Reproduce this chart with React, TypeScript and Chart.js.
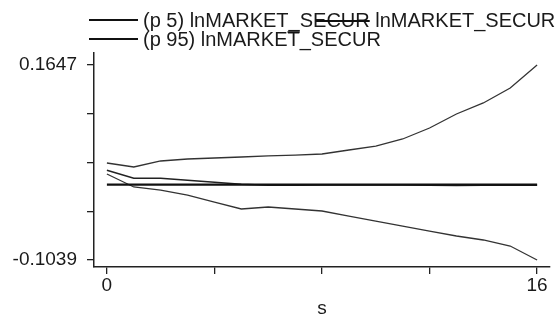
import React, { useEffect, useRef } from 'react';
import { Chart, registerables } from 'chart.js';

Chart.register(...registerables);

// ---- data ----
const steps = [0, 1, 2, 3, 4, 5, 6, 7, 8, 9, 10, 11, 12, 13, 14, 15, 16];
const p95Values = [0.0297, 0.0242, 0.0325, 0.0352, 0.0366, 0.038, 0.0394, 0.0407, 0.0421, 0.0476, 0.0531, 0.0628, 0.0779, 0.0972, 0.1124, 0.133, 0.1647];
const p5Values = [0.0146, -0.0033, -0.0075, -0.0144, -0.024, -0.0336, -0.0309, -0.0336, -0.0364, -0.0433, -0.0502, -0.0571, -0.064, -0.0708, -0.0763, -0.0846, -0.1039];
const irfValues = [0.0197, 0.0087, 0.0087, 0.0059, 0.0032, 0.0005, -0.001, -0.0008, -0.0005, -0.0004, -0.0004, -0.0005, -0.0008, -0.0012, -0.001, -0.0008, -0.0008];
const zeroValues = [0, 0, 0, 0, 0, 0, 0, 0, 0, 0, 0, 0, 0, 0, 0, 0, 0];

const yTickValues = [-0.1039, -0.03675, 0.0304, 0.09755, 0.1647];
const yTickLabels = ['-0.1039', '', '', '', '0.1647'];
const xTickValues = [0, 4, 8, 12, 16];
const xTickLabels = ['0', '', '', '', '16'];
const legendRows = ['(p 5) lnMARKET_SECUR lnMARKET_SECUR', '(p 95) lnMARKET_SECUR'];
const xTitle = 's';

const FONT = "'Liberation Sans', Arial, sans-serif";

const legendPlugin = {
  id: 'stataLegend',
  afterDraw(chart: any) {
    const ctx = chart.ctx;
    ctx.save();
    ctx.font = `20px ${FONT}`;
    ctx.fillStyle = '#1a1a1a';
    ctx.strokeStyle = '#111';
    ctx.textBaseline = 'alphabetic';
    const textX = 143;
    const rowsY = [20, 39];
    legendRows.forEach((t, i) => {
      ctx.lineWidth = 1.8;
      ctx.beginPath();
      ctx.moveTo(89, rowsY[i]);
      ctx.lineTo(138, rowsY[i]);
      ctx.stroke();
      ctx.fillText(t, textX, rowsY[i] + 7);
    });
    // overlapping key artefacts
    const s1 = ctx.measureText('(p 5) lnMARKET_S').width;
    const s2 = ctx.measureText('(p 5) lnMARKET_SECUR').width;
    ctx.lineWidth = 2;
    ctx.beginPath();
    ctx.moveTo(textX + s1 + 3, rowsY[0] + 1);
    ctx.lineTo(textX + s2, rowsY[0] + 1);
    ctx.stroke();
    const t1 = ctx.measureText('(p 95) lnMARKE').width;
    const t2 = ctx.measureText('(p 95) lnMARKET').width;
    ctx.lineWidth = 1.5;
    ctx.beginPath();
    ctx.moveTo(textX + t1, rowsY[1] - 7);
    ctx.lineTo(textX + t2, rowsY[1] - 7);
    ctx.stroke();
    ctx.restore();
  },
};

export default function App() {
  const ref = useRef<HTMLCanvasElement | null>(null);

  useEffect(() => {
    if (!ref.current) return;
    const toPts = (arr: number[]) => steps.map((s, i) => ({ x: s, y: arr[i] }));
    const chart = new Chart(ref.current, {
      type: 'line',
      data: {
        datasets: [
          { label: 'zero', data: toPts(zeroValues), borderColor: '#111', borderWidth: 2.2, pointRadius: 0, tension: 0, fill: false },
          { label: 'lnMARKET_SECUR', data: toPts(irfValues), borderColor: '#222', borderWidth: 1.6, pointRadius: 0, tension: 0, fill: false },
          { label: '(p 5) lnMARKET_SECUR', data: toPts(p5Values), borderColor: '#333', borderWidth: 1.3, pointRadius: 0, tension: 0, fill: false },
          { label: '(p 95) lnMARKET_SECUR', data: toPts(p95Values), borderColor: '#333', borderWidth: 1.3, pointRadius: 0, tension: 0, fill: false },
        ],
      },
      options: {
        responsive: false,
        animation: false,
        layout: { padding: { top: 53, right: 10, left: 0, bottom: 0 } },
        plugins: { legend: { display: false }, tooltip: { enabled: false } },
        scales: {
          x: {
            type: 'linear',
            min: -0.48,
            max: 16.48,
            afterBuildTicks: (scale: any) => {
              scale.ticks = xTickValues.map((v) => ({ value: v }));
            },
            afterFit: (scale: any) => {
              scale.height = 48;
            },
            ticks: {
              autoSkip: false,
              maxRotation: 0,
              padding: 0,
              color: '#1a1a1a',
              font: { family: FONT, size: 19 },
              callback: (_v: any, i: number) => xTickLabels[i],
            },
            grid: { display: true, drawOnChartArea: false, drawTicks: true, tickLength: 7, color: '#222', lineWidth: 1.3 },
            border: { display: true, color: '#222', width: 1.5 },
            title: { display: true, text: xTitle, color: '#1a1a1a', font: { family: FONT, size: 19, lineHeight: 0.7 }, padding: { top: 0, bottom: 0 } },
          },
          y: {
            type: 'linear',
            min: -0.1135,
            max: 0.1812,
            afterBuildTicks: (scale: any) => {
              scale.ticks = yTickValues.map((v) => ({ value: v }));
            },
            afterFit: (scale: any) => {
              scale.width = 94;
            },
            ticks: {
              autoSkip: false,
              padding: 10,
              color: '#1a1a1a',
              font: { family: FONT, size: 19 },
              callback: (_v: any, i: number) => yTickLabels[i],
            },
            grid: { display: true, drawOnChartArea: false, drawTicks: true, tickLength: 7, color: '#222', lineWidth: 1.3 },
            border: { display: true, color: '#222', width: 1.5 },
          },
        },
      },
      plugins: [legendPlugin],
    });
    return () => chart.destroy();
  }, []);

  return (
    <div style={{ position: 'absolute', left: 0, top: 0, width: 560, height: 315, background: '#fff' }}>
      <canvas ref={ref} width={560} height={315} style={{ display: 'block', width: 560, height: 315 }} />
    </div>
  );
}
